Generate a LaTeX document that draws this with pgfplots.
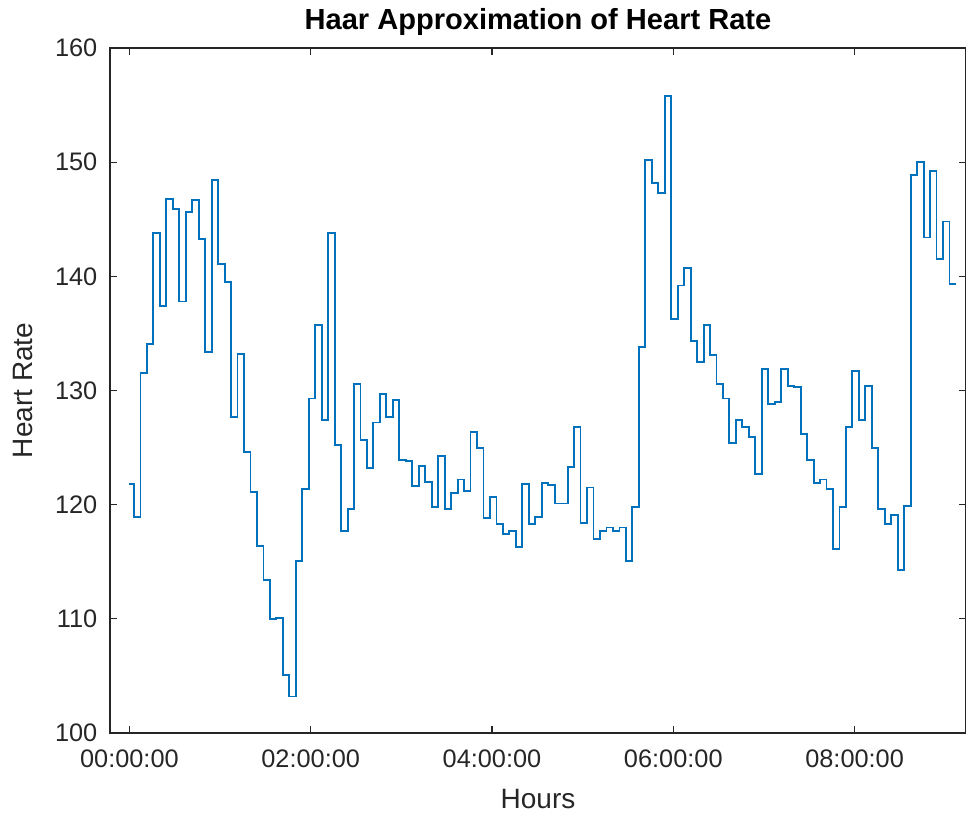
\documentclass[border=0pt]{standalone}
\usepackage{pgfplots}
\pgfplotsset{compat=1.18}
\usepackage{fontspec}
\setmainfont{Liberation Sans}
\definecolor{mblue}{RGB}{0,114,189}
\definecolor{axgray}{RGB}{38,38,38}
\pgfplotstableread{
t hr
0.000 121.8
0.051 118.9
0.122 131.5
0.193 134.1
0.265 143.8
0.336 137.4
0.408 146.8
0.479 145.9
0.550 137.8
0.622 145.6
0.693 146.7
0.765 143.3
0.836 133.4
0.907 148.4
0.979 141.1
1.050 139.5
1.122 127.7
1.193 133.2
1.264 124.6
1.336 121.1
1.407 116.4
1.479 113.4
1.550 110.0
1.621 110.1
1.693 105.1
1.764 103.2
1.836 115.1
1.907 121.4
1.978 129.3
2.050 135.7
2.121 127.4
2.193 143.8
2.264 125.2
2.335 117.7
2.407 119.6
2.478 130.6
2.550 125.7
2.621 123.2
2.692 127.2
2.764 129.7
2.835 127.7
2.907 129.2
2.978 123.9
3.049 123.8
3.121 121.6
3.192 123.4
3.264 122.0
3.335 119.8
3.406 124.3
3.478 119.6
3.549 121.0
3.621 122.2
3.692 121.2
3.763 126.4
3.835 125.0
3.906 118.8
3.978 120.7
4.049 118.3
4.120 117.4
4.192 117.7
4.263 116.3
4.335 121.8
4.406 118.3
4.477 118.9
4.549 121.9
4.620 121.7
4.692 120.1
4.763 120.1
4.834 123.3
4.906 126.8
4.977 118.4
5.049 121.5
5.120 117.0
5.191 117.7
5.263 118.0
5.334 117.7
5.406 118.0
5.477 115.1
5.548 119.8
5.620 133.8
5.691 150.2
5.763 148.2
5.834 147.3
5.905 155.8
5.977 136.3
6.048 139.2
6.120 140.7
6.191 134.3
6.262 132.5
6.334 135.7
6.405 133.1
6.477 130.6
6.548 129.3
6.619 125.4
6.691 127.4
6.762 126.8
6.834 125.9
6.905 122.7
6.976 131.9
7.048 128.8
7.119 129.0
7.191 131.9
7.262 130.4
7.333 130.3
7.405 126.2
7.476 123.9
7.548 121.9
7.619 122.2
7.690 121.4
7.762 116.1
7.833 119.8
7.905 126.8
7.976 131.7
8.047 127.4
8.119 130.4
8.190 125.0
8.262 119.6
8.333 118.3
8.404 119.1
8.476 114.3
8.547 119.9
8.619 148.9
8.690 150.0
8.761 143.4
8.833 149.2
8.904 141.5
8.976 144.8
9.047 139.3
9.118 139.3
}\hrdata
\begin{document}
\begin{tikzpicture}
\begin{axis}[
  scale only axis,
  width=642pt, height=513.75pt,
  xmin=-0.214, xmax=9.229,
  ymin=100, ymax=160,
  xtick={0,2,4,6,8},
  xticklabels={00:00:00,02:00:00,04:00:00,06:00:00,08:00:00},
  ytick={100,110,120,130,140,150,160},
  tick align=inside,
  major tick length=5pt,
  axis line style={axgray, line width=0.8pt},
  every tick/.style={axgray, line width=0.8pt},
  tick label style={font=\fontsize{19}{22}\selectfont, text=axgray},
  yticklabel style={xshift=-6pt},
  xticklabel style={yshift=-9pt},
  /pgf/number format/assume math mode=true,
  xlabel={Hours},
  ylabel={Heart Rate},
  label style={font=\fontsize{21}{25}\selectfont, text=axgray},
  xlabel style={at={(axis description cs:0.5,-0.0964)}, anchor=center},
  ylabel style={at={(axis description cs:-0.1016,0.5)}, anchor=center},
  every axis title shift=0pt,
  title={\textbf{Haar Approximation of Heart Rate}},
  title style={font=\fontsize{21.8}{25}\selectfont, at={(axis description cs:0.5,1.038)}, anchor=center},
]
\addplot[const plot, mblue, line width=1.4pt] table[x=t, y=hr] {\hrdata};
\coordinate (bl) at (rel axis cs:0,0);
\coordinate (tr) at (rel axis cs:1,1);
\end{axis}
\pgfresetboundingbox
\path[use as bounding box] ([xshift=-82.5pt,yshift=-63pt]bl) rectangle ([yshift=36pt]tr);
\end{tikzpicture}
\end{document}
